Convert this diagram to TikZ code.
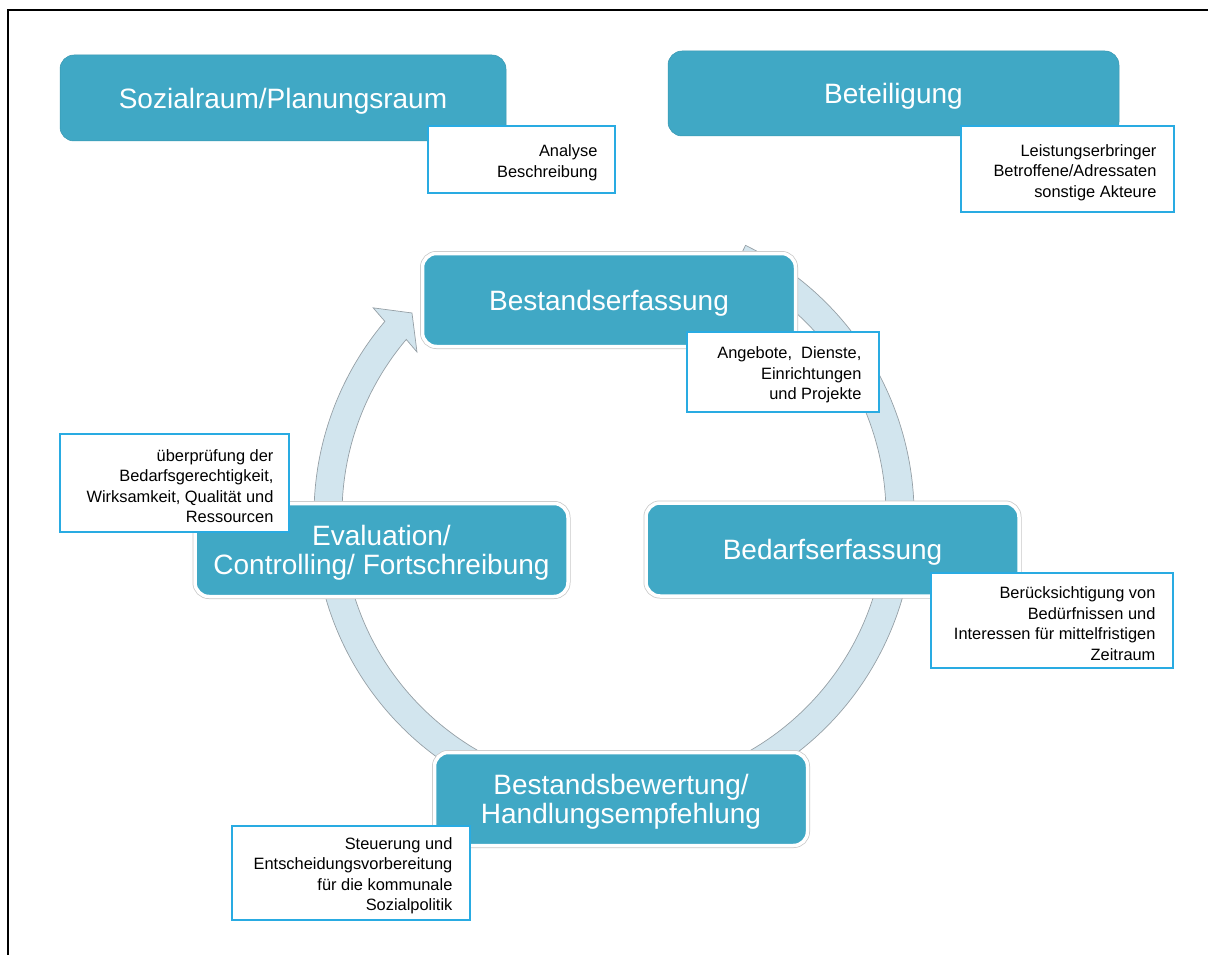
\documentclass[tikz,border=0pt]{standalone}
\usepackage{fontspec}
\setmainfont{Liberation Sans}
\definecolor{teal1}{RGB}{64,168,197}
\definecolor{annot}{RGB}{41,171,226}
\definecolor{ringfill}{RGB}{210,229,238}
\definecolor{ringline}{RGB}{150,160,166}
\definecolor{boxedge}{RGB}{200,200,200}
\begin{document}
\begin{tikzpicture}[x=1pt,y=1pt,
  mainbox/.style={fill=teal1, rounded corners=14pt, minimum width=373pt, minimum height=93pt,
    text=white, align=center, font=\fontsize{28}{29}\selectfont, inner sep=0pt, text depth=-1.5pt},
  cyclebox/.style={mainbox, draw=white, line width=3.5pt, preaction={draw=boxedge, line width=5pt}},
  topbox/.style={mainbox, draw=teal1!90!black, line width=0.5pt},
  notebox/.style={draw=annot, line width=1.2pt, fill=white, inner sep=0pt},
  notetext/.style={align=right, font=\fontsize{16.4}{20.5}\selectfont, inner sep=0pt, anchor=east}
]
\useasboundingbox (0,0) rectangle (1208,-955);
% frame
\draw[line width=2pt] (7.5,-955) -- (7.5,-10.5) -- (1208,-10.5);
% circular arrow
\filldraw[fill=ringfill, draw=ringline, line width=0.7pt]
 ({614+300*cos(64)},{-515+300*sin(64)})
 arc[start angle=64, end angle=-220.2, radius=300]
 -- ({614+317.7*cos(139.3)},{-515+317.7*sin(139.3)})
 -- ({614+285.7*cos(135)},{-515+285.7*sin(135)})
 -- ({614+255.7*cos(140.4)},{-515+255.7*sin(140.4)})
 -- ({614+272*cos(139.8)},{-515+272*sin(139.8)})
 arc[start angle=139.8, end angle=424, radius=272]
 -- cycle;
% top boxes
\node[topbox, minimum width=446pt, minimum height=86pt] (sozial) at (283,-98) {Sozialraum/Planungsraum};
\node[topbox, minimum width=451pt, minimum height=85pt] (beteil) at (893.5,-93.5) {Beteiligung};
% cycle boxes
\node[cyclebox] (bestand) at (609,-300) {Bestandserfassung};
\node[cyclebox] (bedarf) at (832.5,-549.5) {Bedarfserfassung};
\node[cyclebox] (bewert) at (621,-799) {Bestandsbewertung/\\Handlungsempfehlung};
\node[cyclebox] (eval) at (381.5,-550) {Evaluation/\\Controlling/ Fortschreibung};
% notes
\node[notebox, minimum width=187pt, minimum height=67pt] (n1) at (521.5,-159.5) {};
\node[notetext] (n1t) at ([xshift=-18pt,yshift=-3.5pt]n1.east) {Analyse\\Beschreibung};
\node[notebox, minimum width=213pt, minimum height=86pt] (n2) at (1067.5,-169) {};
\node[notetext] (n2t) at ([xshift=-18pt,yshift=-3.5pt]n2.east) {Leistungserbringer\\Betroffene/Adressaten\\sonstige Akteure};
\node[notebox, minimum width=192pt, minimum height=80pt] (n3) at (783,-372) {};
\node[notetext] (n3t) at ([xshift=-18pt,yshift=-3pt]n3.east) {Angebote,\ \ Dienste,\\Einrichtungen\\und Projekte};
\node[notebox, minimum width=242pt, minimum height=95pt] (n4) at (1052,-620.5) {};
\node[notetext] (n4t) at ([xshift=-18pt,yshift=-3pt]n4.east) {Berücksichtigung von\\Bedürfnissen und\\Interessen für mittelfristigen\\Zeitraum};
\node[notebox, minimum width=238pt, minimum height=94pt] (n5) at (351,-873) {};
\node[notetext] (n5t) at ([xshift=-18pt,yshift=-3pt]n5.east) {Steuerung und\\Entscheidungsvorbereitung\\für die kommunale\\Sozialpolitik};
\node[notebox, minimum width=229pt, minimum height=98pt] (n6) at (174.5,-483) {};
\node[notetext] (n6t) at ([xshift=-16pt,yshift=-3pt]n6.east) {überprüfung der\\Bedarfsgerechtigkeit,\\Wirksamkeit, Qualität und\\Ressourcen};
\end{tikzpicture}
\end{document}
